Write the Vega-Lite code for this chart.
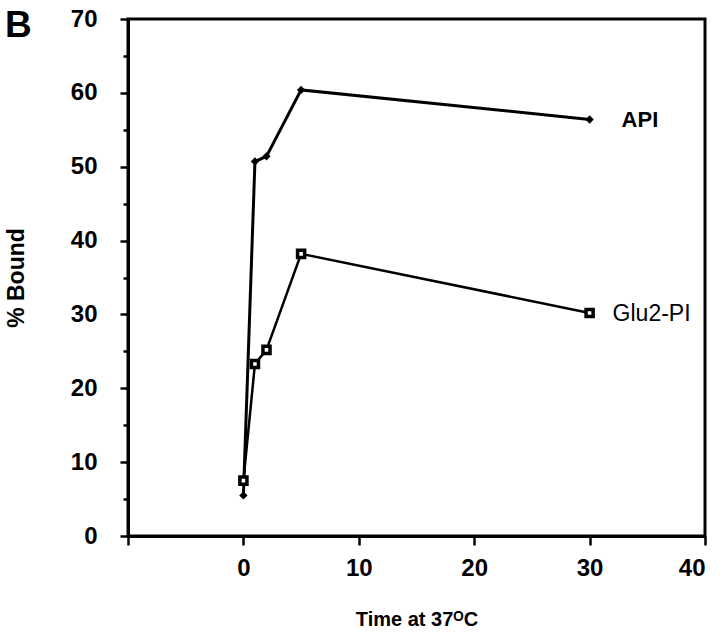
{
  "$schema": "https://vega.github.io/schema/vega-lite/v6.json",
  "autosize": {"type": "none"},
  "width": 577,
  "height": 517,
  "padding": {"left": 128, "top": 19, "right": 15, "bottom": 98},
  "background": "white",
  "config": {
    "view": {"stroke": "black", "strokeWidth": 3},
    "font": "Liberation Sans",
    "axis": {
      "domainColor": "black",
      "domainWidth": 3,
      "tickColor": "black",
      "tickWidth": 2.5,
      "grid": false,
      "labelFont": "Liberation Sans",
      "labelFontWeight": "bold",
      "labelFontSize": 24,
      "labelColor": "black",
      "titleFont": "Liberation Sans",
      "titleFontWeight": "bold",
      "titleColor": "black"
    }
  },
  "title": {
    "text": "B",
    "anchor": "start",
    "frame": "group",
    "align": "left",
    "baseline": "alphabetic",
    "fontSize": 37,
    "font": "Liberation Sans",
    "fontWeight": "bold",
    "color": "black",
    "offset": 0,
    "dx": -123,
    "dy": 67
  },
  "data": {
    "values": [
      {"time": 0, "bound": 5.5, "series": "API"},
      {"time": 1, "bound": 50.7, "series": "API"},
      {"time": 2, "bound": 51.4, "series": "API"},
      {"time": 5, "bound": 60.4, "series": "API"},
      {"time": 30, "bound": 56.4, "series": "API"},
      {"time": 0, "bound": 7.5, "series": "Glu2-PI"},
      {"time": 1, "bound": 23.3, "series": "Glu2-PI"},
      {"time": 2, "bound": 25.2, "series": "Glu2-PI"},
      {"time": 5, "bound": 38.2, "series": "Glu2-PI"},
      {"time": 30, "bound": 30.2, "series": "Glu2-PI"}
    ]
  },
  "encoding": {
    "x": {
      "field": "time",
      "type": "quantitative",
      "scale": {"domain": [-10, 40], "nice": false, "zero": false},
      "axis": {
        "values": [-10, 0, 10, 20, 30, 40],
        "labelExpr": "datum.value < 0 ? '' : datum.label",
        "tickSize": 9,
        "labelPadding": 11,
        "title": "Time at 37ᴼC",
        "titleFontSize": 20,
        "titlePadding": 29
      }
    },
    "y": {
      "field": "bound",
      "type": "quantitative",
      "scale": {"domain": [0, 70], "nice": false},
      "axis": {
        "values": [0, 5, 10, 15, 20, 25, 30, 35, 40, 45, 50, 55, 60, 65, 70],
        "labelExpr": "datum.value % 10 === 0 ? datum.label : ''",
        "tickSize": {"condition": {"test": "datum.value % 10 === 0", "value": 8}, "value": 5},
        "labelPadding": 23,
        "title": "% Bound",
        "titleFontSize": 23,
        "titlePadding": 42
      }
    }
  },
  "layer": [
    {
      "transform": [{"filter": "datum.series === 'API'"}],
      "mark": {"type": "line", "color": "black", "strokeWidth": 3}
    },
    {
      "transform": [{"filter": "datum.series === 'Glu2-PI'"}],
      "mark": {"type": "line", "color": "black", "strokeWidth": 2.5}
    },
    {
      "transform": [{"filter": "datum.series === 'API'"}],
      "mark": {"type": "point", "shape": "diamond", "filled": true, "color": "black", "size": 70, "opacity": 1}
    },
    {
      "transform": [{"filter": "datum.series === 'Glu2-PI'"}],
      "mark": {"type": "point", "shape": "square", "filled": true, "fill": "white", "stroke": "black", "strokeWidth": 3.5, "size": 50, "opacity": 1}
    },
    {
      "transform": [{"filter": "datum.series === 'API' && datum.time === 30"}],
      "mark": {"type": "text", "align": "left", "baseline": "middle", "dx": 32, "dy": 1, "fontSize": 22, "fontWeight": "bold", "font": "Liberation Sans", "color": "black"},
      "encoding": {"text": {"field": "series"}}
    },
    {
      "transform": [{"filter": "datum.series === 'Glu2-PI' && datum.time === 30"}],
      "mark": {"type": "text", "align": "left", "baseline": "middle", "dx": 23, "dy": 1, "fontSize": 23, "fontWeight": "normal", "font": "Liberation Sans", "color": "black"},
      "encoding": {"text": {"field": "series"}}
    }
  ]
}
